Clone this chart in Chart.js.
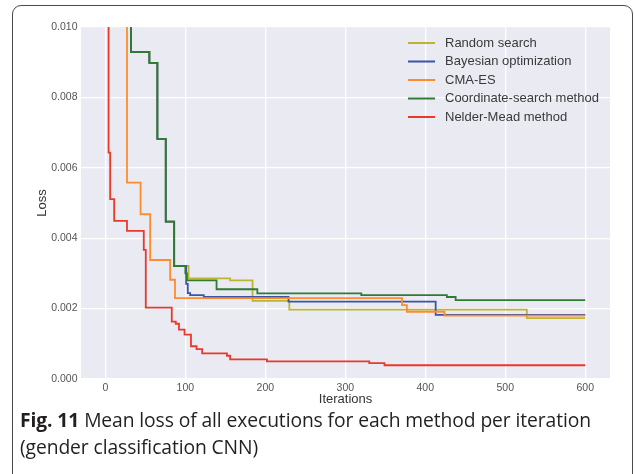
<!DOCTYPE html>
<html>
<head>
<meta charset="utf-8">
<script src="https://cdn.jsdelivr.net/npm/chart.js@4.4.1/dist/chart.umd.min.js"></script>
<style>
  html, body { margin: 0; padding: 0; background: #fff; }
  body { width: 635px; height: 474px; position: relative; overflow: hidden; }
  #frame {
    position: absolute; left: 12px; top: 5px; width: 621px; height: 500px;
    border: 1.4px solid #4a4a4a; border-radius: 9px; box-sizing: border-box;
  }
  #chartBox { position: absolute; left: 0; top: 0; width: 635px; height: 412px; }
  #caption {
    position: absolute; left: 20px; top: 406px; width: 610px; white-space: nowrap;
    font-family: "Open Sans", sans-serif; font-size: 19.3px; line-height: 27px;
    color: #231f20; letter-spacing: -0.1px;
  }
  #caption b { font-weight: 700; }
</style>
</head>
<body>
<div id="frame"></div>
<div id="chartBox"><canvas id="lossChart" width="635" height="412"></canvas></div>
<div id="caption"><b>Fig. 11</b> Mean loss of all executions for each method per iteration<br>(gender classification CNN)</div>

<script>
// series names, in legend order
const methods = ['Random search', 'Bayesian optimization', 'CMA-ES', 'Coordinate-search method', 'Nelder-Mead method'];
const colors = ['#bdb433', '#3a55a8', '#fb8d2f', '#2f7b34', '#e8392b'];

// step points: iteration where a new best loss starts, and that loss
const randomIter = [0, 32, 55, 65, 75.5, 86, 104, 156, 184, 230, 527, 600];
const randomLoss = [0.05, 0.00929, 0.00898, 0.00682, 0.00447, 0.00321, 0.00286, 0.00280, 0.00222, 0.00197, 0.00173, 0.00173];

const bayesIter = [0, 32, 55, 65, 75.5, 86, 101, 103, 106, 123, 229, 413, 600];
const bayesLoss = [0.05, 0.00929, 0.00898, 0.00682, 0.00447, 0.00321, 0.00270, 0.00244, 0.00238, 0.00233, 0.00220, 0.00182, 0.00182];

const cmaIter = [0, 27, 44, 56, 81, 87, 371, 377, 424, 600];
const cmaLoss = [0.05, 0.00558, 0.00468, 0.00338, 0.00282, 0.00230, 0.00210, 0.00191, 0.00180, 0.00180];

const coordIter = [0, 32, 55, 65, 75.5, 86, 100, 102, 139, 190, 320, 427, 438, 600];
const coordLoss = [0.05, 0.00929, 0.00898, 0.00682, 0.00447, 0.00321, 0.00300, 0.00280, 0.00255, 0.00243, 0.00238, 0.00233, 0.00224, 0.00224];

const nmIter = [0, 4, 6, 11, 27, 48, 50.5, 83, 88, 92, 99, 107, 114, 121, 152, 156, 202, 330, 349, 600];
const nmLoss = [0.05, 0.00643, 0.00511, 0.00449, 0.00421, 0.00367, 0.00203, 0.00163, 0.00157, 0.00140, 0.00126, 0.00093, 0.00085, 0.00073, 0.00066, 0.00056, 0.00050, 0.00045, 0.00039, 0.00039];

const xTicks = [0, 100, 200, 300, 400, 500, 600];
const yTicks = [0, 0.002, 0.004, 0.006, 0.008, 0.010];

const seriesIter = [randomIter, bayesIter, cmaIter, coordIter, nmIter];
const seriesLoss = [randomLoss, bayesLoss, cmaLoss, coordLoss, nmLoss];

const datasets = methods.map((name, i) => ({
    label: name,
    data: seriesIter[i].map((x, k) => ({x: x, y: seriesLoss[i][k]})),
    borderColor: colors[i],
    borderWidth: 1.8,
    pointRadius: 0,
    stepped: 'before',   // hold the old value, drop at the new iteration
    fill: false,
    order: methods.length - i   // later series drawn on top
}));

// grey plot background
const plotBg = {
    id: 'plotBg',
    beforeDraw(chart) {
        const {ctx, chartArea: a} = chart;
        ctx.save();
        ctx.fillStyle = '#eaeaf2';
        ctx.fillRect(a.left, a.top, a.right - a.left, a.bottom - a.top);
        ctx.restore();
    }
};

// legend inside the plot, top right
const innerLegend = {
    id: 'innerLegend',
    afterDatasetsDraw(chart) {
        const ctx = chart.ctx;
        ctx.save();
        ctx.font = '13px "Liberation Sans", Arial, sans-serif';
        ctx.textBaseline = 'middle';
        ctx.lineWidth = 2;
        methods.forEach((name, i) => {
            const y = 43 + i * 18.5;
            ctx.strokeStyle = colors[i];
            ctx.beginPath();
            ctx.moveTo(408, y);
            ctx.lineTo(435, y);
            ctx.stroke();
            ctx.fillStyle = '#3a3a3a';
            ctx.fillText(name, 445, y);
        });
        ctx.restore();
    }
};

const tickFont = {family: '"Liberation Sans", Arial, sans-serif', size: 10.5};
const titleFont = {family: '"Liberation Sans", Arial, sans-serif', size: 13};

new Chart(document.getElementById('lossChart'), {
    type: 'line',
    data: {datasets: datasets},
    options: {
        responsive: false,
        animation: false,
        layout: {padding: {left: 0, right: 25, top: 27, bottom: 0}},
        plugins: {legend: {display: false}, tooltip: {enabled: false}},
        scales: {
            x: {
                type: 'linear',
                min: -30.5,
                max: 631,
                afterBuildTicks: axis => { axis.ticks = xTicks.map(v => ({value: v})); },
                afterFit: axis => { axis.height = 33; },
                grid: {color: '#ffffff', lineWidth: 1.3, drawTicks: false},
                border: {display: false},
                ticks: {color: '#555', font: tickFont, padding: 3},
                title: {display: true, text: 'Iterations', color: '#333', font: titleFont, padding: {top: 0, bottom: 5}}
            },
            y: {
                min: 0,
                max: 0.010,
                afterBuildTicks: axis => { axis.ticks = yTicks.map(v => ({value: v})); },
                afterFit: axis => { axis.width = 81; },
                grid: {color: '#ffffff', lineWidth: 1.3, drawTicks: false},
                border: {display: false},
                ticks: {color: '#555', font: tickFont, padding: 3.5, callback: v => v.toFixed(3)},
                title: {display: true, text: 'Loss', color: '#333', font: titleFont, padding: {top: 35, bottom: 0}}
            }
        }
    },
    plugins: [plotBg, innerLegend]
});
</script>
</body>
</html>
